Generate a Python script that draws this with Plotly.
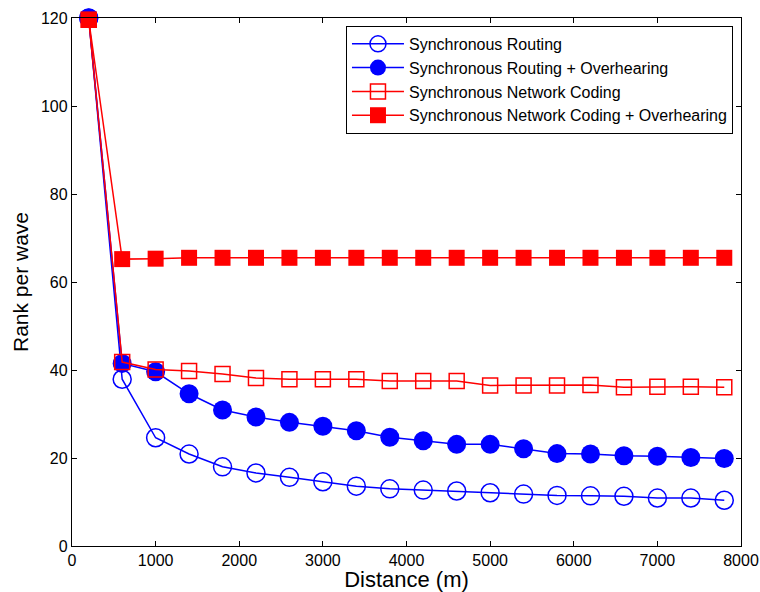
import plotly.graph_objects as go

distance = [200, 600, 1000, 1400, 1800, 2200, 2600, 3000, 3400, 3800,
            4200, 4600, 5000, 5400, 5800, 6200, 6600, 7000, 7400, 7800]

sync_routing = [120, 37.9, 24.6, 20.9, 18.0, 16.6, 15.6, 14.6, 13.6, 13.0,
                12.7, 12.5, 12.1, 11.8, 11.5, 11.4, 11.3, 10.9, 10.9, 10.4]
sync_routing_oh = [120, 41.5, 39.6, 34.6, 30.9, 29.3, 28.1, 27.2, 26.2, 24.7,
                   23.9, 23.1, 23.1, 22.1, 21.0, 20.9, 20.5, 20.4, 20.1, 19.9]
sync_nc = [119.6, 41.8, 40.1, 39.8, 39.1, 38.2, 37.9, 37.9, 37.9, 37.5,
           37.5, 37.5, 36.5, 36.5, 36.5, 36.6, 36.1, 36.2, 36.2, 36.1]
sync_nc_oh = [119.6, 65.2, 65.3, 65.5, 65.5, 65.5, 65.5, 65.5, 65.5, 65.5,
              65.5, 65.5, 65.5, 65.5, 65.5, 65.5, 65.5, 65.5, 65.5, 65.5]

names = ["Synchronous Routing", "Synchronous Routing + Overhearing",
         "Synchronous Network Coding", "Synchronous Network Coding + Overhearing"]

BLUE = "rgb(0,0,255)"
RED = "rgb(255,0,0)"

fig = go.Figure()
fig.add_trace(go.Scatter(x=distance, y=sync_routing, name=names[0], mode="lines+markers",
                         cliponaxis=False, line=dict(color=BLUE, width=1.5),
                         marker=dict(symbol="circle-open", size=18, color=BLUE, line=dict(width=1.5, color=BLUE))))
fig.add_trace(go.Scatter(x=distance, y=sync_routing_oh, name=names[1], mode="lines+markers",
                         cliponaxis=False, line=dict(color=BLUE, width=1.5),
                         marker=dict(symbol="circle", size=19, color=BLUE, line=dict(width=0))))
fig.add_trace(go.Scatter(x=distance, y=sync_nc, name=names[2], mode="lines+markers",
                         cliponaxis=False, line=dict(color=RED, width=1.5),
                         marker=dict(symbol="square-open", size=15, color=RED, line=dict(width=1.5, color=RED))))
fig.add_trace(go.Scatter(x=distance, y=sync_nc_oh, name=names[3], mode="lines+markers",
                         cliponaxis=False, line=dict(color=RED, width=1.5),
                         marker=dict(symbol="square", size=16, color=RED, line=dict(width=0))))

axis_common = dict(showline=True, linecolor="black", linewidth=1.3, mirror="ticks",
                   ticks="inside", ticklen=5, tickcolor="black", showgrid=False, zeroline=False,
                   automargin=False,
                   tickfont=dict(family="Liberation Sans, Arial", size=16, color="black"))

fig.update_layout(
    width=760, height=592,
    margin=dict(l=72, r=19, t=18, b=46),
    paper_bgcolor="white", plot_bgcolor="white",
    font=dict(family="Liberation Sans, Arial", color="black"),
    xaxis=dict(range=[0, 8000], tickvals=[0, 1000, 2000, 3000, 4000, 5000, 6000, 7000, 8000],
               title=dict(text="Distance (m)", font=dict(size=22), standoff=7), **axis_common),
    yaxis=dict(range=[0, 120], tickvals=[0, 20, 40, 60, 80, 100, 120],
               title=dict(text="Rank per wave", font=dict(size=21), standoff=6), **axis_common),
    legend=dict(x=0.988, y=0.985, xanchor="right", yanchor="top",
                bgcolor="white", bordercolor="black", borderwidth=1,
                font=dict(size=16, color="black"), tracegroupgap=0, itemwidth=52),
    showlegend=True,
)

fig.write_html("out.html", config={"displayModeBar": False},
               post_script="document.body.style.margin='0';document.body.style.overflow='hidden';")
